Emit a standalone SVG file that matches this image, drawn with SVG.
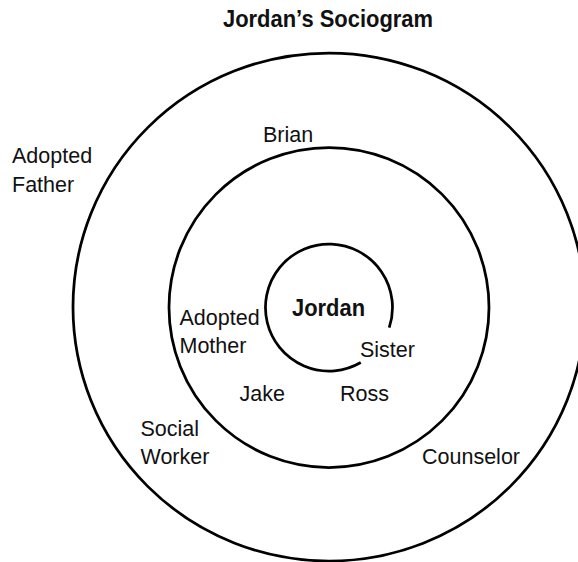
<svg xmlns="http://www.w3.org/2000/svg" width="578" height="562" viewBox="0 0 578 562">
  <style>
    .ring { fill: none; stroke: #000; stroke-width: 2.75; }
    .lbl { font-family: "Liberation Sans", Arial, sans-serif; font-size: 21.5px; fill: #111; }
    .bold { font-family: "Liberation Sans", Arial, sans-serif; font-size: 24px; font-weight: bold; fill: #111; }
  </style>
  <rect width="578" height="562" fill="#fff"/>
  <g id="title">
    <text class="bold" x="223" y="27" textLength="210" lengthAdjust="spacingAndGlyphs">Jordan’s Sociogram</text>
  </g>
  <g id="rings">
    <ellipse class="ring" cx="329" cy="307" rx="256" ry="254"/>
    <circle class="ring" cx="329" cy="307.5" r="160"/>
    <path class="ring" d="M 360.75 362.5 A 63.5 63.5 0 1 1 389.2 327.65"/>
  </g>
  <g id="jordan">
    <text class="bold" x="292" y="315.7" textLength="73" lengthAdjust="spacingAndGlyphs">Jordan</text>
  </g>
  <g id="brian">
    <text class="lbl" x="263" y="142">Brian</text>
  </g>
  <g id="adopted-father">
    <text class="lbl" x="12" y="163.3">Adopted</text>
    <text class="lbl" x="12" y="191.7">Father</text>
  </g>
  <g id="adopted-mother">
    <text class="lbl" x="179.5" y="324.5">Adopted</text>
    <text class="lbl" x="179.5" y="353.3">Mother</text>
  </g>
  <g id="sister">
    <text class="lbl" x="360" y="356.7">Sister</text>
  </g>
  <g id="jake">
    <text class="lbl" x="239.5" y="400.5">Jake</text>
  </g>
  <g id="ross">
    <text class="lbl" x="340" y="400.5">Ross</text>
  </g>
  <g id="social-worker">
    <text class="lbl" x="140.5" y="436">Social</text>
    <text class="lbl" x="140.5" y="464.3">Worker</text>
  </g>
  <g id="counselor">
    <text class="lbl" x="422" y="464.3">Counselor</text>
  </g>
</svg>
